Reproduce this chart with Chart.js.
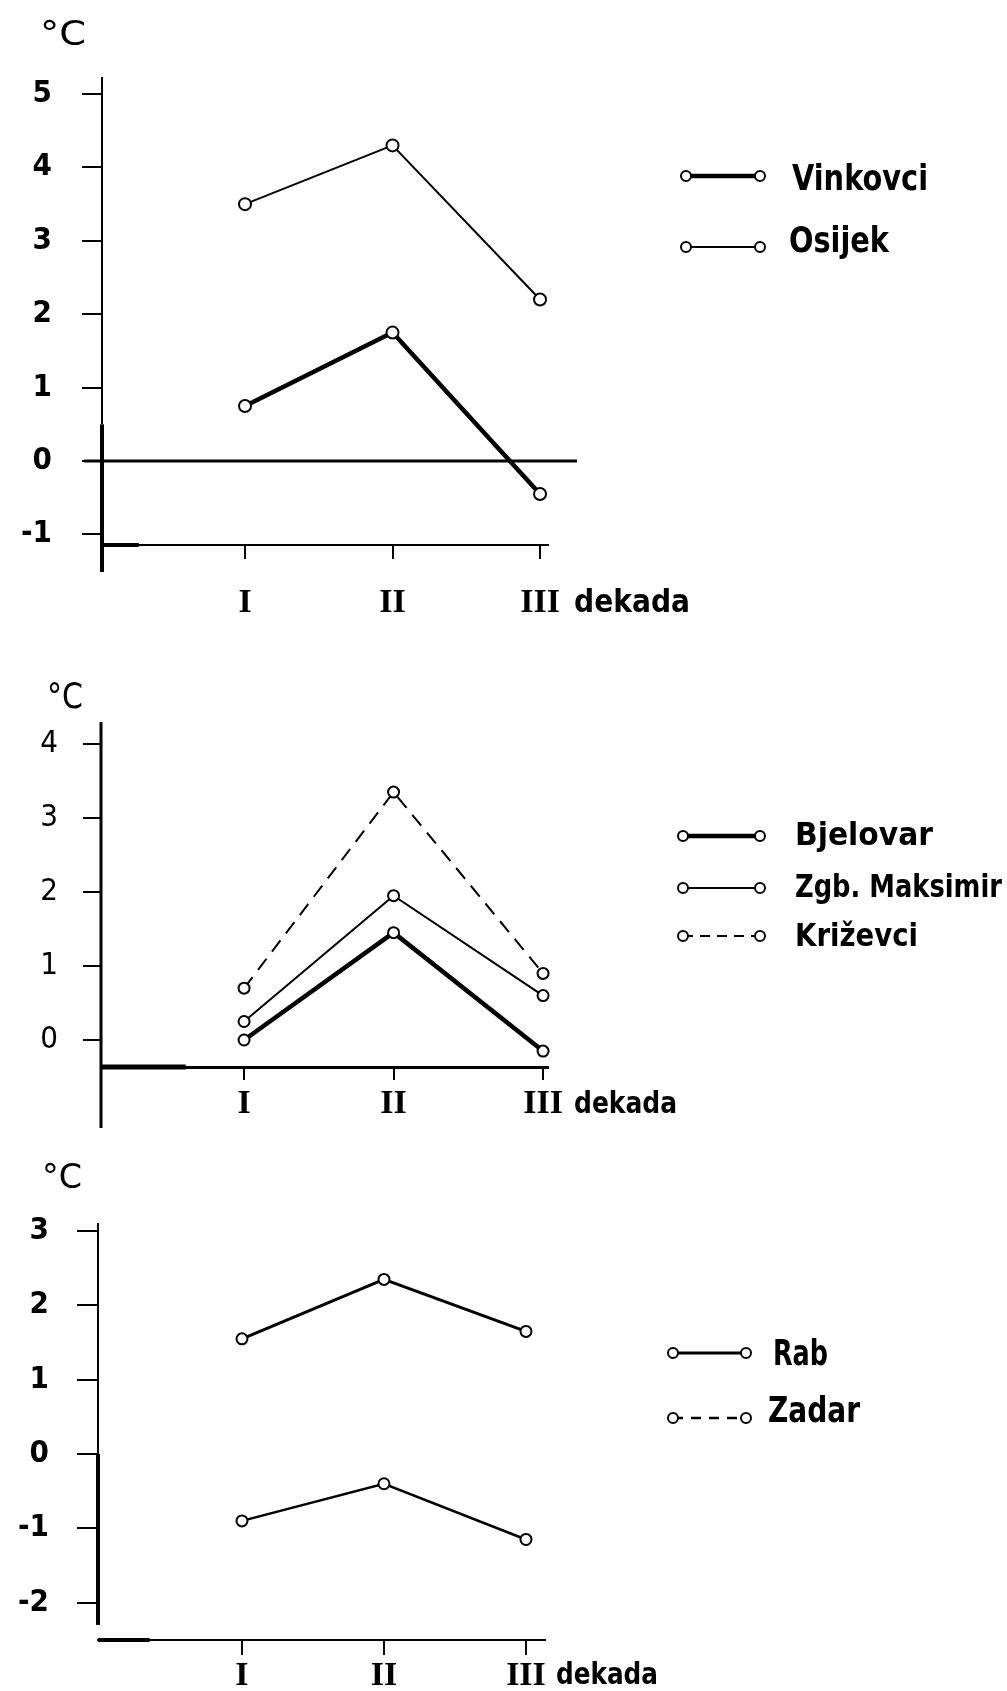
<!DOCTYPE html>
<html><head><meta charset="utf-8">
<script src="https://cdn.jsdelivr.net/npm/chart.js@4.4.0/dist/chart.umd.min.js"></script>
<style>
html,body{margin:0;padding:0;background:#fff;}
#wrap{position:relative;width:1007px;height:1691px;overflow:hidden;background:#fff;}
canvas{position:absolute;left:0;}
</style></head><body>
<div id="wrap">
<canvas id="c1" width="1007" height="640" style="top:0px"></canvas>
<canvas id="c2" width="1007" height="500" style="top:640px"></canvas>
<canvas id="c3" width="1007" height="551" style="top:1140px"></canvas>
</div>
<script>
// ---------- data ----------
const categories = ['I', 'II', 'III'];
const xUnitLabel = 'dekada';
const yUnitLabel = '°C';

// panel 1
const p1Names = ['Vinkovci', 'Osijek'];
const vinkovci = [0.75, 1.75, -0.45];
const osijek = [3.5, 4.3, 2.2];
const p1Ticks = [-1, 0, 1, 2, 3, 4, 5];

// panel 2
const p2Names = ['Bjelovar', 'Zgb. Maksimir', 'Križevci'];
const bjelovar = [0.0, 1.45, -0.15];
const zgbMaksimir = [0.25, 1.95, 0.6];
const krizevci = [0.7, 3.35, 0.9];
const p2Ticks = [0, 1, 2, 3, 4];

// panel 3
const p3Names = ['Rab', 'Zadar'];
const rab = [1.55, 2.35, 1.65];
const zadar = [-0.9, -0.4, -1.15];
const p3Ticks = [-2, -1, 0, 1, 2, 3];

// ---------- styling helpers ----------
const SANS = "'DejaVu Sans Condensed', 'Liberation Sans Narrow', 'DejaVu Sans', sans-serif";
const SERIF = "'Liberation Serif', 'DejaVu Serif', serif";
Chart.defaults.color = '#000';
Chart.defaults.font.family = SANS;

function fitText(ctx, text, x, y, font, w, baseline) {
  ctx.font = font;
  ctx.textAlign = 'left';
  ctx.textBaseline = baseline || 'alphabetic';
  const m = ctx.measureText(text).width;
  const sx = w ? w / m : 1;
  ctx.save();
  ctx.translate(x, y);
  ctx.scale(sx, 1);
  ctx.fillText(text, 0, 0);
  ctx.restore();
}

const paper = {
  id: 'paper',
  beforeDatasetsDraw(chart, args, o) {
    const ctx = chart.ctx, xs = chart.scales.x, ys = chart.scales.y, ca = chart.chartArea;
    ctx.save();
    ctx.strokeStyle = '#000';
    ctx.lineCap = 'butt';
    const seg = (x1, y1, x2, y2, w) => { ctx.lineWidth = w; ctx.beginPath(); ctx.moveTo(x1, y1); ctx.lineTo(x2, y2); ctx.stroke(); };
    (o.yAxis || []).forEach(s => seg(ca.left, ys.getPixelForValue(s.from), ca.left, ys.getPixelForValue(s.to), s.width));
    (o.xAxis || []).forEach(s => seg(xs.getPixelForValue(s.from), ca.bottom, xs.getPixelForValue(s.to), ca.bottom, s.width));
    if (o.zeroLine) {
      const y0 = ys.getPixelForValue(0);
      seg(xs.getPixelForValue(o.zeroLine.from), y0, xs.getPixelForValue(o.zeroLine.to), y0, o.zeroLine.width);
    }
    ctx.restore();
  },
  afterDraw(chart, args, o) {
    const ctx = chart.ctx;
    ctx.save();
    ctx.fillStyle = '#000';
    ctx.strokeStyle = '#000';
    (o.texts || []).forEach(t => fitText(ctx, t.text, t.x, t.y, t.font, t.w, t.baseline));
    const L = o.legend;
    if (L) {
      chart.data.datasets.forEach((ds, i) => {
        const it = L.items[i];
        ctx.setLineDash(ds.legendDash || ds.borderDash || []);
        ctx.lineWidth = ds.borderWidth;
        ctx.beginPath(); ctx.moveTo(L.x1, it.y); ctx.lineTo(L.x2, it.y); ctx.stroke();
        ctx.setLineDash([]);
        [L.x1, L.x2].forEach(cx => {
          ctx.beginPath(); ctx.arc(cx, it.y, L.r, 0, Math.PI * 2);
          ctx.fillStyle = '#fff'; ctx.fill();
          ctx.lineWidth = 2; ctx.stroke();
        });
        ctx.fillStyle = '#000';
        fitText(ctx, ds.label, it.textX, it.textY, L.font, it.w);
      });
    }
    ctx.restore();
  }
};

function series(label, values, width, opts = {}) {
  return {
    label,
    data: values.map((v, i) => ({ x: i, y: v })),
    borderColor: '#000',
    borderWidth: width,
    borderDash: opts.dash || [],
    legendDash: opts.legendDash,
    pointRadius: opts.r || 6,
    pointHoverRadius: opts.r || 6,
    pointBackgroundColor: '#fff',
    pointBorderColor: '#000',
    pointBorderWidth: 2,
    tension: 0,
    fill: false,
    clip: false
  };
}

function makePanel(id, p) {
  return new Chart(document.getElementById(id), {
    type: 'line',
    data: { datasets: p.datasets },
    options: {
      responsive: false,
      animation: false,
      devicePixelRatio: 1,
      layout: { padding: p.padding },
      plugins: { legend: { display: false }, tooltip: { enabled: false }, paper: p.paper },
      scales: {
        x: {
          type: 'linear', min: p.xMin, max: p.xMax,
          afterBuildTicks: s => { s.ticks = categories.map((c, i) => ({ value: i })); },
          afterFit: s => { s.height = p.xHeight; },
          ticks: {
            callback: v => categories[v], autoSkip: false, maxRotation: 0, minRotation: 0,
            padding: p.xPad, color: '#000', font: { family: SERIF, size: 34, weight: 'bold' }
          },
          grid: { display: true, drawOnChartArea: false, drawTicks: true, tickLength: p.xTick, color: '#000', lineWidth: 2 },
          border: { display: true, color: '#000', width: p.xBorder }
        },
        y: {
          type: 'linear', min: p.yMin, max: p.yMax,
          afterBuildTicks: s => { s.ticks = p.yTicks.map(v => ({ value: v })); },
          afterFit: s => { s.width = p.yWidth; },
          ticks: { callback: v => String(v), padding: p.yPad, color: '#000', font: { family: SANS, size: 31, weight: p.yWeight } },
          grid: { display: true, drawOnChartArea: false, drawTicks: true, tickLength: p.yTick, color: '#000', lineWidth: 2 },
          border: { display: false }
        }
      }
    },
    plugins: [paper]
  });
}

// ---------- panel 1 ----------
makePanel('c1', {
  datasets: [series(p1Names[0], vinkovci, 4.5, { r: 6 }), series(p1Names[1], osijek, 2, { r: 6 })],
  padding: { left: 0, top: 77, right: 459, bottom: 15 },
  yWidth: 102, yMin: -1.144, yMax: 5.232, yTicks: p1Ticks, yTick: 20, yPad: 30, yWeight: 'bold',
  xMin: -0.9695, xMax: 2.054, xTick: 14, xPad: 24, xBorder: 2, xHeight: 80,
  paper: {
    yAxis: [{ from: 5.232, to: 0.5, width: 2 }, { from: 0.5, to: -1.512, width: 4 }],
    xAxis: [{ from: -0.9695, to: -0.72, width: 4 }],
    zeroLine: { from: -1.09, to: 2.251, width: 3 },
    texts: [
      { text: yUnitLabel, x: 40, y: 45, font: `34px ${SANS}`, w: 46 },
      { text: xUnitLabel, x: 574, y: 604, baseline: 'middle', font: `bold 32px ${SANS}`, w: 116 }
    ],
    legend: {
      x1: 686, x2: 760, r: 5, font: `bold 36px ${SANS}`,
      items: [{ y: 176, textX: 792, textY: 190, w: 136 }, { y: 247, textX: 789, textY: 252, w: 100 }]
    }
  }
});

// ---------- panel 2 ----------
makePanel('c2', {
  datasets: [
    series(p2Names[0], bjelovar, 4.5, { r: 5.5 }),
    series(p2Names[1], zgbMaksimir, 2, { r: 5.5 }),
    series(p2Names[2], krizevci, 2, { r: 5.5, dash: [14, 9], legendDash: [10, 7] })
  ],
  padding: { left: 0, top: 82, right: 459, bottom: 3 },
  yWidth: 101, yMin: -0.365, yMax: 4.297, yTicks: p2Ticks, yTick: 18, yPad: 25, yWeight: 'normal',
  xMin: -0.957, xMax: 2.033, xTick: 13, xPad: 4, xBorder: 3, xHeight: 70,
  paper: {
    yAxis: [{ from: 4.297, to: -1.19, width: 3 }],
    xAxis: [{ from: -0.957, to: -0.39, width: 5 }],
    texts: [
      { text: yUnitLabel, x: 47, y: 68, font: `35px ${SANS}`, w: 36 },
      { text: xUnitLabel, x: 574, y: 465, baseline: 'middle', font: `bold 31px ${SANS}`, w: 103 }
    ],
    legend: {
      x1: 683, x2: 760, r: 5, font: `bold 32px ${SANS}`,
      items: [
        { y: 196, textX: 795, textY: 205, w: 138 },
        { y: 248, textX: 795, textY: 257, w: 207 },
        { y: 296, textX: 795, textY: 306, w: 123 }
      ]
    }
  }
});

// ---------- panel 3 ----------
makePanel('c3', {
  datasets: [series(p3Names[0], rab, 3, { r: 5.5 }), series(p3Names[1], zadar, 2.5, { r: 5.5, legendDash: [10, 8] })],
  padding: { left: 0, top: 83, right: 462, bottom: 0 },
  yWidth: 98, yMin: -2.503, yMax: 3.109, yTicks: p3Ticks, yTick: 21, yPad: 28, yWeight: 'bold',
  xMin: -1.014, xMax: 2.134, xTick: 15, xPad: 1, xBorder: 2, xHeight: 51,
  paper: {
    yAxis: [{ from: 3.109, to: 0, width: 2 }, { from: 0, to: -2.3, width: 4 }],
    xAxis: [{ from: -1.014, to: -0.65, width: 4 }],
    texts: [
      { text: yUnitLabel, x: 42, y: 48, font: `34px ${SANS}`, w: 40 },
      { text: xUnitLabel, x: 556, y: 536, baseline: 'middle', font: `bold 31px ${SANS}`, w: 102 }
    ],
    legend: {
      x1: 673, x2: 746, r: 5, font: `bold 35px ${SANS}`,
      items: [{ y: 213, textX: 773, textY: 225, w: 55 }, { y: 278, textX: 768, textY: 282, w: 92 }]
    }
  }
});
</script>
</body></html>
